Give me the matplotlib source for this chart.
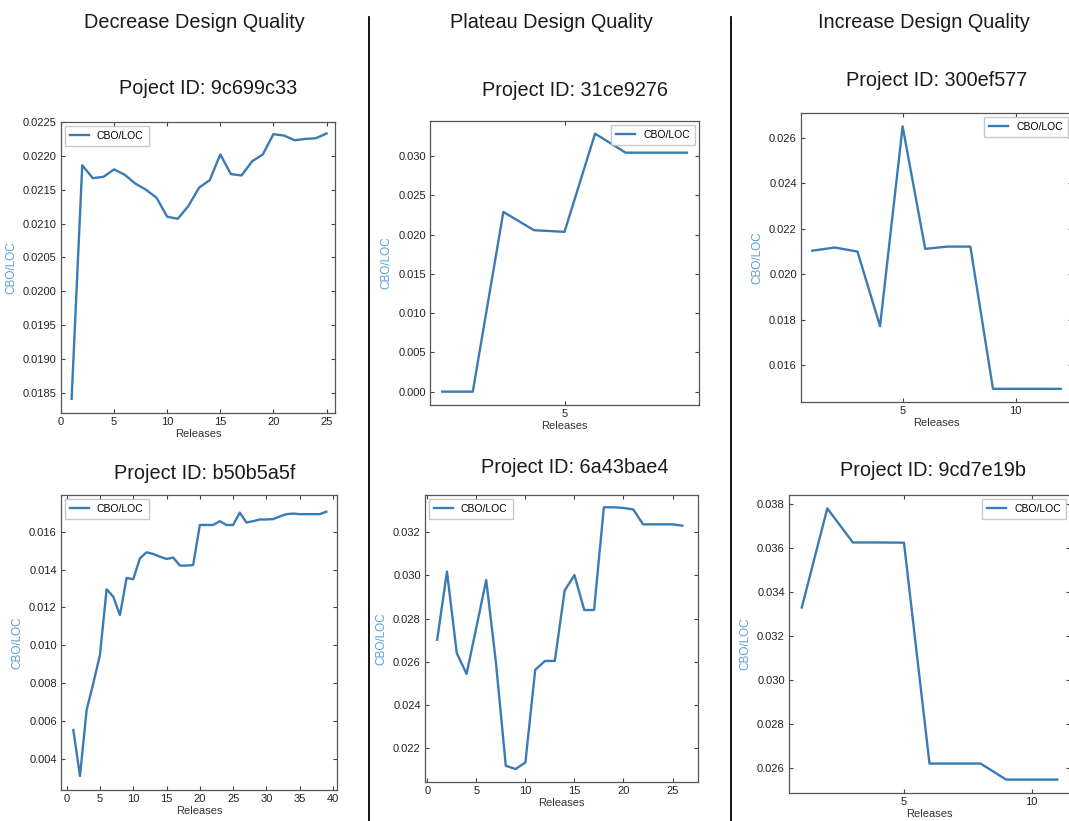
import matplotlib

matplotlib.use("Agg")
import matplotlib.pyplot as plt
from matplotlib.lines import Line2D
import numpy as np

# ---- data ----
column_titles = ["Decrease Design Quality", "Plateau Design Quality", "Increase Design Quality"]

decrease_top_id = "Poject ID: 9c699c33"
decrease_top = [0.01841, 0.02186, 0.02167, 0.02169, 0.02180, 0.02172, 0.02159, 0.02150,
                0.02138, 0.02110, 0.02107, 0.02126, 0.02153, 0.02164, 0.02202, 0.02173,
                0.02171, 0.02192, 0.02202, 0.02232, 0.02230, 0.02223, 0.02225, 0.02226,
                0.02233]

plateau_top_id = "Project ID: 31ce9276"
plateau_top = [0.0, 0.0, 0.02288, 0.02055, 0.02034, 0.03284, 0.03042, 0.03042, 0.03042]

increase_top_id = "Project ID: 300ef577"
increase_top = [0.02104, 0.02118, 0.02100, 0.01772, 0.02651, 0.02112, 0.02122, 0.02122,
                0.01496, 0.01496, 0.01496, 0.01496]

decrease_bottom_id = "Project ID: b50b5a5f"
decrease_bottom = [0.00554, 0.00312, 0.00660, 0.00800, 0.00950, 0.01296, 0.01257, 0.01160,
                   0.01356, 0.01349, 0.01459, 0.01491, 0.01482, 0.01468, 0.01456, 0.01463,
                   0.01421, 0.01421, 0.01424, 0.01635, 0.01635, 0.01635, 0.01655, 0.01635,
                   0.01635, 0.01700, 0.01648, 0.01655, 0.01664, 0.01664, 0.01666, 0.01680,
                   0.01692, 0.01695, 0.01692, 0.01692, 0.01692, 0.01692, 0.01705]

plateau_bottom_id = "Project ID: 6a43bae4"
plateau_bottom = [0.02702, 0.03018, 0.02640, 0.02544, 0.02760, 0.02979, 0.02594, 0.02118,
                  0.02103, 0.02134, 0.02563, 0.02604, 0.02604, 0.02930, 0.03002, 0.02840,
                  0.02840, 0.03316, 0.03316, 0.03313, 0.03306, 0.03237, 0.03237, 0.03237,
                  0.03237, 0.03231]

increase_bottom_id = "Project ID: 9cd7e19b"
increase_bottom = [0.03329, 0.03780, 0.03625, 0.03625, 0.03624, 0.02619, 0.02619, 0.02619,
                   0.02546, 0.02546, 0.02546]

W, H = 1069, 821
LINE_COLOR = "#3a7bb5"
LABEL_COLOR = "#5aa0d6"

plt.rcParams["font.family"] = ["Liberation Sans", "DejaVu Sans"]

# (values, title, axes box in px: left, top, right, bottom, xlim, ylim, xticks, yticks, fmt, legend loc, title y/x px)
panels = [
    (decrease_top, decrease_top_id, (61, 122, 335, 413), (0, 25.8), (0.0182, 0.0225),
     np.arange(0, 26, 5), np.arange(0.0185, 0.02251, 0.0005), "{:.4f}", "upper left", 89, 208),
    (plateau_top, plateau_top_id, (430, 121, 699, 405), (0.6, 9.4), (-0.0017, 0.03445),
     [5], np.arange(0.0, 0.0301, 0.005), "{:.3f}", "upper right", 90, 575),
    (increase_top, increase_top_id, (801, 113, 1072, 402), (0.5, 12.5), (0.01438, 0.0271),
     [5, 10], np.arange(0.016, 0.02601, 0.002), "{:.3f}", "upper right", 80, 937),
    (decrease_bottom, decrease_bottom_id, (61, 495, 337, 790), (-0.85, 40.6), (0.00238, 0.01793),
     np.arange(0, 41, 5), np.arange(0.004, 0.01601, 0.002), "{:.3f}", "upper left", 473, 205),
    (plateau_bottom, plateau_bottom_id, (425, 495, 698, 782), (-0.24, 27.6), (0.02043, 0.03373),
     np.arange(0, 26, 5), np.arange(0.022, 0.03201, 0.002), "{:.3f}", "upper left", 467, 575),
    (increase_bottom, increase_bottom_id, (789, 495, 1070, 793), (0.5, 11.5), (0.02485, 0.03841),
     [5, 10], np.arange(0.026, 0.03801, 0.002), "{:.3f}", "upper right", 471, 933),
]

fig = plt.figure(figsize=(W / 100, H / 100), dpi=100)

for values, title, box, xlim, ylim, xticks, yticks, fmt, loc, title_y, title_x in panels:
    left, top, right, bottom = box
    ax = fig.add_axes([left / W, 1 - bottom / H, (right - left) / W, (bottom - top) / H])
    releases = np.arange(1, len(values) + 1)
    ax.plot(releases, values, color=LINE_COLOR, linewidth=1.7, label="CBO/LOC")
    ax.set_xlim(*xlim)
    ax.set_ylim(*ylim)
    ax.set_xticks(xticks)
    ax.set_yticks(yticks)
    ax.set_yticklabels([fmt.format(v) for v in yticks])
    ax.tick_params(direction="in", top=True, right=True, labelsize=8, length=3,
                   color="#444444", labelcolor="#222222", pad=3)
    for spine in ax.spines.values():
        spine.set_color("#555555")
        spine.set_linewidth(0.9)
    ax.set_xlabel("Releases", fontsize=8, color="#333333", labelpad=1)
    ax.set_ylabel("CBO/LOC", fontsize=8.5, color=LABEL_COLOR, labelpad=4)
    ax.legend(loc=loc, fontsize=7.5, handlelength=1.8, borderaxespad=0.35,
              frameon=True, fancybox=False, edgecolor="#bbbbbb", borderpad=0.5)
    fig.text(title_x / W, 1 - title_y / H, title, ha="center", va="center",
             fontsize=14.3, color="#1a1a1a")

for x_px, title in zip([194, 551, 924], column_titles):
    fig.text(x_px / W, 1 - 22 / H, title, ha="center", va="center", fontsize=14.3,
             color="#1a1a1a")

for x_px in [369, 731]:
    fig.add_artist(Line2D([x_px / W, x_px / W], [0, 1 - 17 / H], color="black", linewidth=1.3))

fig.savefig("out.png", dpi=100)
